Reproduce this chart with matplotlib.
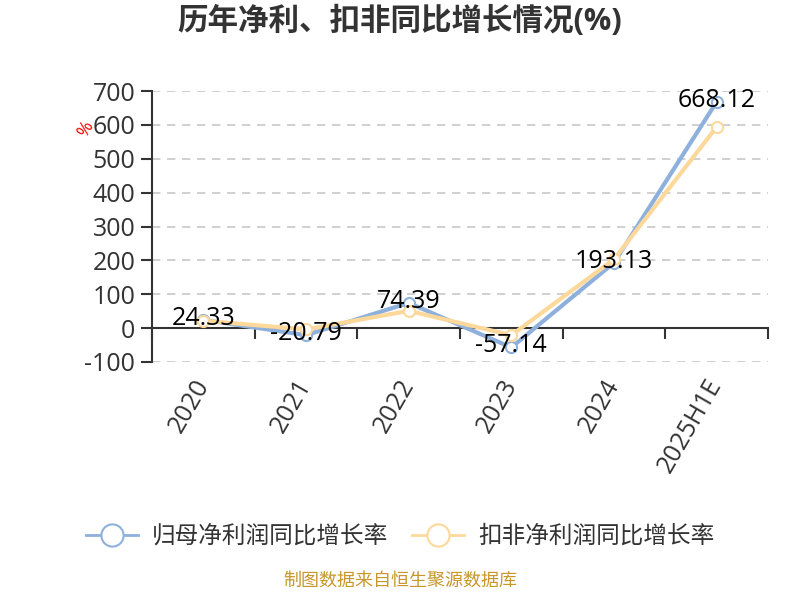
import matplotlib
matplotlib.use("Agg")
import matplotlib.pyplot as plt
from matplotlib.lines import Line2D
import numpy as np

plt.rcParams['font.family'] = ['Open Sans', 'Noto Sans CJK SC', 'DejaVu Sans']
plt.rcParams['axes.unicode_minus'] = False

years = ["2020", "2021", "2022", "2023", "2024", "2025H1E"]
net_profit = [24.33, -20.79, 74.39, -57.14, 193.13, 668.12]
deducted = [22, -4, 51, -21, 203, 594]
series_names = ["归母净利润同比增长率", "扣非净利润同比增长率"]

blue = "#8eb0dc"
orange = "#fdd89b"

fig = plt.figure(figsize=(8, 6), dpi=100)
ax = fig.add_axes([0.19, 0.3967, 0.77, 0.4516])

x = np.arange(len(years))
ax.plot(x, net_profit, color=blue, lw=3, marker="o", ms=8,
        mfc="white", mec=blue, mew=1.5, zorder=3)
ax.plot(x, deducted, color=orange, lw=3, marker="o", ms=8,
        mfc="white", mec=orange, mew=1.5, zorder=4)

for xi, v in zip(x, net_profit):
    ax.text(xi, v + 5, f"{v:.2f}", ha="center", va="center",
            fontsize=18, color="black", zorder=5)

ax.set_xlim(-0.5, len(years) - 0.5)
ax.set_ylim(-100, 700)
ax.set_yticks(np.arange(-100, 701, 100))
ax.tick_params(axis="y", labelsize=18, colors="#333333", length=8, width=1.5, pad=4)
ax.yaxis.grid(True, ls=(0, (5, 4)), color="#c8c8c8", lw=1.2)
ax.set_axisbelow(True)

ax.spines["top"].set_visible(False)
ax.spines["right"].set_visible(False)
ax.spines["left"].set_color("#333333")
ax.spines["left"].set_linewidth(1.5)
ax.spines["bottom"].set_position(("data", 0))
ax.spines["bottom"].set_color("#333333")
ax.spines["bottom"].set_linewidth(1.5)

ax.set_xticks(x)
ax.set_xticklabels(years, rotation=60, ha="right", va="center",
                   rotation_mode="anchor", fontsize=18, color="#333333")
ax.set_xticks(np.arange(-0.5, len(years), 1), minor=True)
ax.tick_params(axis="x", which="major", length=0, pad=38)
ax.tick_params(axis="x", which="minor", length=8, width=1.5, color="#333333")

fig.text(0.107, 0.785, "%", color="red", fontsize=13, rotation=60,
         ha="center", va="center")

fig.suptitle("历年净利、扣非同比增长情况(%)", x=0.5, y=0.99,
             fontsize=22, fontweight="bold", color="#333333")

handles = [
    Line2D([], [], color=blue, lw=2, marker="o", ms=16, mfc="white", mec=blue, mew=1.5),
    Line2D([], [], color=orange, lw=2, marker="o", ms=16, mfc="white", mec=orange, mew=1.5),
]
fig.legend(handles, series_names, loc="center", bbox_to_anchor=(0.5, 0.105),
           ncol=2, frameon=False, fontsize=17, handlelength=2.2,
           columnspacing=1.0, handletextpad=0.6, labelcolor="#333333")

fig.text(0.5, 0.017, "制图数据来自恒生聚源数据库", ha="center", va="bottom",
         fontsize=13, color="#c8962a")

fig.savefig("out.png", dpi=100)
